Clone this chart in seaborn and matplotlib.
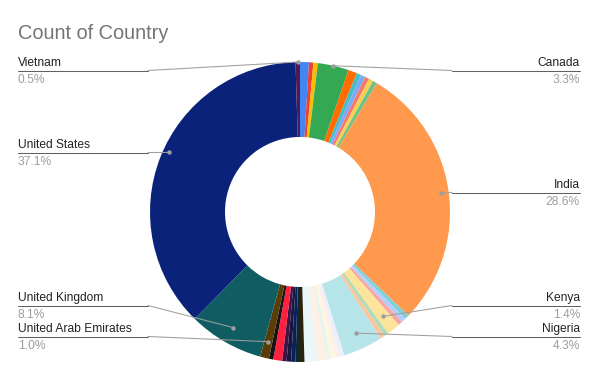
import matplotlib.pyplot as plt
import numpy as np
import seaborn as sns

sns.set_theme(style="white")
plt.rcParams["font.family"] = ["Liberation Sans", "DejaVu Sans"]

# data: country counts (alphabetical, as in the sheet)
countries = [
    "Australia", "Bangladesh", "Brazil", "Canada", "China", "Egypt", "France",
    "Germany", "Ghana", "Hong Kong", "India", "Indonesia", "Ireland", "Japan",
    "Kenya", "Malaysia", "Mexico", "Nigeria", "Pakistan", "Philippines",
    "Poland", "Portugal", "Singapore", "South Africa", "Spain", "Sri Lanka",
    "Sweden", "Switzerland", "Thailand", "Turkey", "Uganda",
    "United Arab Emirates", "United Kingdom", "United States", "Vietnam",
]
counts = [
    2, 1, 1, 7, 2, 1, 1,
    1, 1, 1, 60, 1, 1, 1,
    3, 1, 1, 9, 1, 1,
    1, 1, 2, 3, 1, 1,
    1, 1, 1, 2, 1,
    2, 17, 78, 1,
]
colors = [
    "#4285F4", "#EA4335", "#FBBC04", "#34A853", "#FF6D01", "#46BDC6", "#7BAAF7",
    "#F07B72", "#FCD04F", "#71C287", "#FF994D", "#7ED1D7", "#B3CEFB", "#F7A7A1",
    "#FDE49B", "#AEDCBA", "#FFC599", "#B5E5E8", "#ECEEFB", "#FDEFEC",
    "#FEF6DF", "#E8F5EC", "#FFEFE5", "#EAF7F9", "#2A220C", "#0C2A2C",
    "#0C1E5E", "#18183C", "#3C1446", "#FF1F3F", "#1C1212",
    "#5A3D06", "#0F5C63", "#0A2279", "#4D1A55",
]

# labelled slices: side, name baseline (px), dot radius (fraction), angle nudge (deg)
shown = {
    "Vietnam": ("left", 66, 1.0, 0),
    "United States": ("left", 148, 0.96, -3),
    "United Kingdom": ("left", 301, 0.89, 0),
    "United Arab Emirates": ("left", 332, 0.89, 0),
    "Canada": ("right", 66, 1.0, 0),
    "India": ("right", 188, 0.95, 0),
    "Kenya": ("right", 301, 0.89, 0),
    "Nigeria": ("right", 332, 0.89, 0),
}

fig = plt.figure(figsize=(6, 3.71), dpi=100)
ax = fig.add_axes([0.25, 0.0243, 0.5, 0.8086])
wedges, _ = ax.pie(
    counts,
    colors=colors,
    startangle=90,
    counterclock=False,
    radius=1,
    wedgeprops=dict(width=0.5, linewidth=0),
)
ax.set_xlim(-1, 1)
ax.set_ylim(-1, 1)
ax.axis("off")

# overlay in pixel coords for title / labels / leaders
ov = fig.add_axes([0, 0, 1, 1])
ov.set_xlim(0, 600)
ov.set_ylim(371, 0)
ov.axis("off")
ov.patch.set_alpha(0)

ov.text(18, 39, "Count of Country", fontsize=14.4, color="#757575", va="baseline")

total = sum(counts)
to_px = ax.transData + ov.transData.inverted()
for name, (side, base, rfrac, nudge) in shown.items():
    i = countries.index(name)
    w = wedges[i]
    mid = np.deg2rad((w.theta1 + w.theta2) / 2 + nudge)
    dx, dy = to_px.transform((rfrac * np.cos(mid), rfrac * np.sin(mid)))
    ly = base + 4.5
    pct = f"{100 * counts[i] / total:.1f}%"
    if side == "left":
        x0, knee, ha = 18, 148, "left"
    else:
        x0, knee, ha = 580, 452, "right"
    if (side == "left" and dx < knee) or (side == "right" and dx > knee):
        knee = dx
    ov.plot([x0, knee], [ly, ly], color="#616161", lw=0.75)
    ov.plot([knee, dx], [ly, dy], color="#9E9E9E", lw=0.75)
    ov.plot(dx, dy, "o", ms=3.2, color="#9E9E9E", mew=0)
    ov.text(x0, base, name, fontsize=8.64, color="#222222", ha=ha, va="baseline")
    ov.text(x0, base + 17, pct, fontsize=8.64, color="#9E9E9E", ha=ha, va="baseline")

plt.savefig("out.png", dpi=100)
